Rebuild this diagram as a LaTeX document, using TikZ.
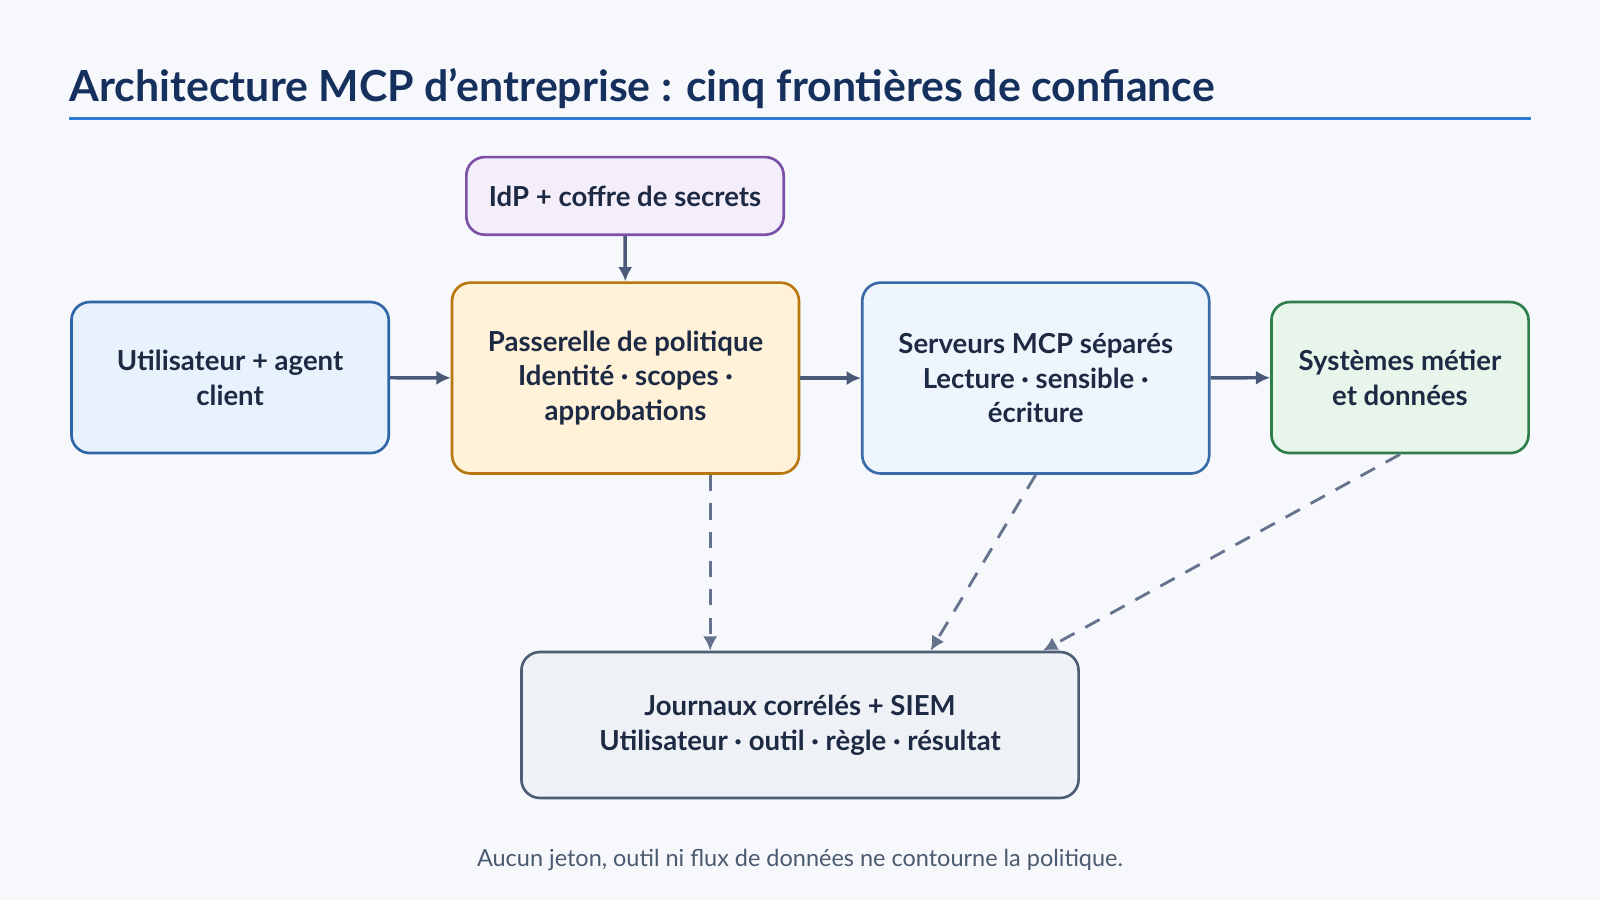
\documentclass[tikz,border=0pt]{standalone}
\usepackage{fontspec}
\setmainfont{Lato}
\usetikzlibrary{arrows.meta,positioning,calc}
\tikzset{>={Latex[length=7,width=7]}}
\definecolor{bgc}{HTML}{F6F8FC}
\definecolor{titlec}{HTML}{16305E}
\definecolor{rulec}{HTML}{2F7BD6}
\definecolor{txtc}{HTML}{1E2A44}
\definecolor{arrc}{HTML}{4A5A78}
\definecolor{footc}{HTML}{4A5A70}
\definecolor{userd}{HTML}{3065A8}
\definecolor{userf}{HTML}{E8F2FD}
\definecolor{passd}{HTML}{B8780F}
\definecolor{passf}{HTML}{FFF2D9}
\definecolor{servd}{HTML}{3A6AA8}
\definecolor{servf}{HTML}{EEF5FD}
\definecolor{sysd}{HTML}{2E7D4A}
\definecolor{sysf}{HTML}{E8F5EA}
\definecolor{idpd}{HTML}{7B52A8}
\definecolor{idpf}{HTML}{F3EEFA}
\definecolor{jourd}{HTML}{4F5D72}
\definecolor{jourf}{HTML}{EEF2F7}
\tikzset{
  box/.style={draw, line width=1.3pt, rounded corners=9pt, align=center,
    font=\fontsize{13.5}{17}\selectfont\bfseries, text=txtc},
  link/.style={->, draw=arrc, line width=1.7pt},
  feed/.style={->, draw=arrc!85, line width=1.4pt, dash pattern=on 8pt off 6pt}
}
\begin{document}
\begin{tikzpicture}[x=0.5pt,y=-0.5pt]
        % BACKGROUND
        \fill[bgc] (0,0) rectangle (1568,882);
        \useasboundingbox (0,0) rectangle (1568,882);

        % TITLE
        \node[anchor=base west, text=titlec, font=\fontsize{21}{24}\selectfont\bfseries, inner sep=0] (title) at (68,99) {Architecture MCP d\symbol{39}entreprise : cinq frontières de confiance};
        \draw[rulec, line width=1.6pt] (68,116) -- (1500,116);

        % BOXES
        \node[box, draw=userd, fill=userf, minimum width=155.5pt, minimum height=74pt] (user) at (225.5,370) {Utilisateur + agent\\client};
        \node[box, draw=passd, fill=passf, minimum width=170pt, minimum height=93.5pt] (pass) at (613,370.5) {Passerelle de politique\\Identité · scopes ·\\approbations};
        \node[box, draw=servd, fill=servf, minimum width=170pt, minimum height=93.5pt] (serv) at (1015,370.5) {Serveurs MCP séparés\\Lecture · sensible ·\\écriture};
        \node[box, draw=sysd, fill=sysf, minimum width=126pt, minimum height=74pt] (sys) at (1372,370) {Systèmes métier\\et données};
        \node[box, draw=idpd, fill=idpf, minimum width=155.5pt, minimum height=38pt] (idp) at (612.5,192) {IdP + coffre de secrets};
        \node[box, draw=jourd, fill=jourf, minimum width=273pt, minimum height=71.5pt] (jour) at (784,710.5) {Journaux corrélés + SIEM\\Utilisateur · outil · règle · résultat};

        % LINKS
        \draw[link] (idp) -- (pass);
        \draw[link] (user) -- (pass);
        \draw[link] (pass) -- (serv);
        \draw[link] (serv) -- (sys);

        % AUDIT
        \draw[feed] ([xshift=41.5pt]pass.south) -- ([xshift=41.5pt]pass.south |- jour.north);
        \draw[feed] (serv.south) -- ([xshift=64pt]jour.north);
        \draw[feed] (sys.south) -- ([xshift=119pt]jour.north);

        % FOOTER
        \node[text=footc, font=\fontsize{11.5}{13}\selectfont] (foot) at (784,843) {Aucun jeton, outil ni flux de données ne contourne la politique.};
\end{tikzpicture}
\end{document}
